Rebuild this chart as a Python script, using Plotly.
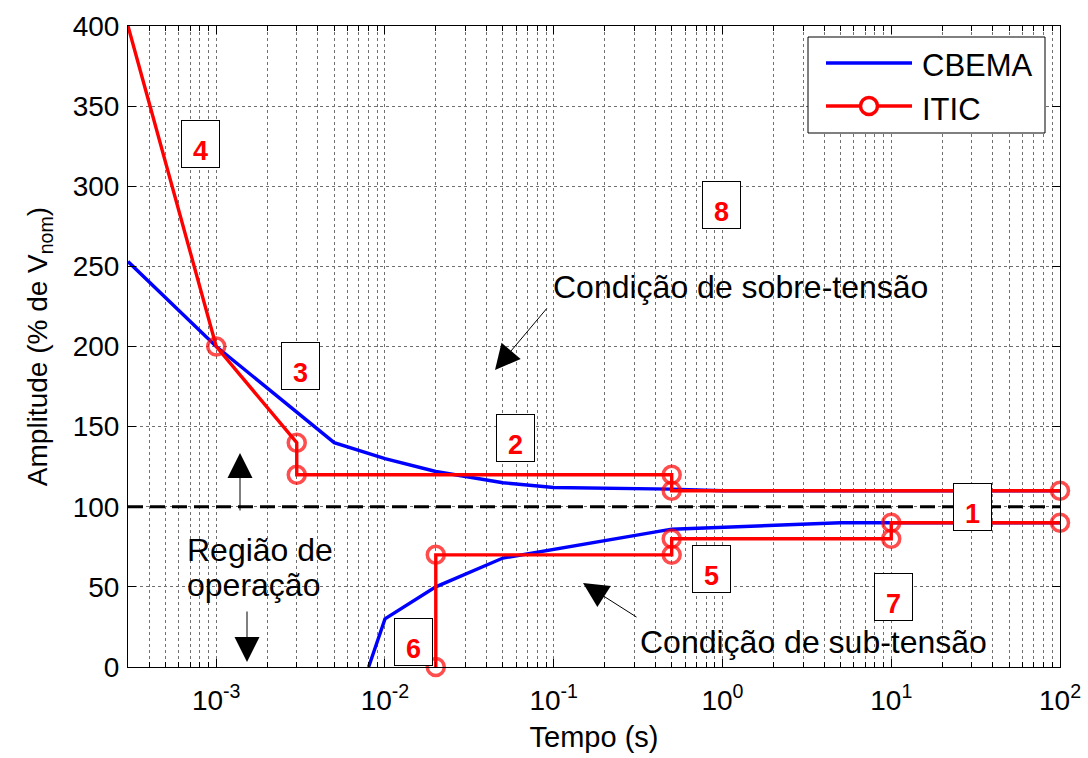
import plotly.graph_objects as go
import math

# ---------------- data ----------------
cbema_up_t = [3e-4, 1e-3, 5e-3, 1e-2, 2e-2, 5e-2, 0.1, 0.5, 1, 100]
cbema_up_v = [253, 200, 140, 130, 122, 115, 112, 111, 110, 110]
cbema_low_t = [8e-3, 1e-2, 2e-2, 5e-2, 0.5, 5, 10, 100]
cbema_low_v = [0, 30, 50, 68, 86, 90, 90, 90]

itic_up_t = [3e-4, 1e-3, 3e-3, 3e-3, 0.5, 0.5, 100]
itic_up_v = [400, 200, 140, 120, 120, 110, 110]
itic_low_t = [0.02, 0.02, 0.5, 0.5, 10, 10, 100]
itic_low_v = [0, 70, 70, 80, 80, 90, 90]

nominal = 100
x_range = [3e-4, 100]
y_ticks = [0, 50, 100, 150, 200, 250, 300, 350, 400]
x_tickvals = [1e-3, 1e-2, 1e-1, 1, 10, 100]
x_ticktext = ["10<sup>-3</sup>", "10<sup>-2</sup>", "10<sup>-1</sup>",
              "10<sup>0</sup>", "10<sup>1</sup>", "10<sup>2</sup>"]

region_labels = ["1", "2", "3", "4", "5", "6", "7", "8"]

# ---------------- layout helpers (pixel -> paper) ----------------
W, H = 1088, 758
L, R, T, B = 128, 28, 26, 91
PW, PH = W - L - R, H - T - B


def px(x):
    return (x - L) / PW


def py(y):
    return (H - B - y) / PH


# centres of the numbered boxes (pixels)
region_pix = [(972, 507), (515, 438), (300, 366), (200, 144),
              (711, 569), (413, 642), (893, 597), (721, 205)]

FONT = "Arial, Liberation Sans, sans-serif"
RED = "#ff0000"
BLUE = "#0000ff"

fig = go.Figure()

fig.add_trace(go.Scatter(
    x=cbema_up_t + [None] + cbema_low_t,
    y=cbema_up_v + [None] + cbema_low_v,
    mode="lines", name="CBEMA", showlegend=False,
    line=dict(color=BLUE, width=3.4),
))

itic_t = itic_up_t + [None] + itic_low_t
itic_v = itic_up_v + [None] + itic_low_v
sizes = [0] + [17] * (len(itic_up_t) - 1) + [0] + [17] * len(itic_low_t)
fig.add_trace(go.Scatter(
    x=itic_t, y=itic_v,
    mode="lines+markers", name="ITIC", showlegend=False,
    line=dict(color=RED, width=3.4),
    marker=dict(symbol="circle-open", size=sizes, color=RED,
                line=dict(width=3.5, color=RED)),
    cliponaxis=False,
))

# nominal dashed line
fig.add_shape(type="line", xref="paper", x0=0, x1=1, yref="y", y0=nominal, y1=nominal,
              line=dict(color="black", width=3, dash="15px,7px"), layer="above")

# white backgrounds for the free texts (between grid and data)
for (x0, y0, x1, y1) in [(548, 265, 935, 308), (638, 617, 990, 666), (167, 515, 353, 598)]:
    fig.add_shape(type="rect", xref="paper", yref="paper",
                  x0=px(x0), x1=px(x1), y0=py(y1), y1=py(y0),
                  fillcolor="white", line=dict(width=0), layer="below")

# numbered region boxes
for lab, (cx, cy) in zip(region_labels, region_pix):
    fig.add_annotation(
        xref="paper", yref="paper", x=px(cx), y=py(cy), xanchor="center", yanchor="middle",
        text="<b>%s</b>" % lab,
        showarrow=False, font=dict(family=FONT, size=27, color=RED),
        bgcolor="white", bordercolor="black", borderwidth=1,
        width=35, height=44, valign="bottom", borderpad=1,
    )

ARR = dict(showarrow=True, arrowhead=2, arrowsize=5, arrowwidth=1.0,
           arrowcolor="black", standoff=0, text="", xref="paper", yref="paper")

fig.add_annotation(xref="paper", yref="paper", x=px(740), y=py(287),
                   xanchor="center", yanchor="middle",
                   text="Condição de sobre-tensão", showarrow=False,
                   font=dict(family=FONT, size=32, color="black"))
fig.add_annotation(x=px(495), y=py(370), ax=53, ay=-63, **ARR)

fig.add_annotation(xref="paper", yref="paper", x=px(813), y=py(642),
                   xanchor="center", yanchor="middle",
                   text="Condição de sub-tensão", showarrow=False,
                   font=dict(family=FONT, size=32, color="black"))
fig.add_annotation(x=px(583), y=py(583), ax=55, ay=35, **ARR)

fig.add_annotation(xref="paper", yref="paper", x=px(185), y=py(550),
                   xanchor="left", yanchor="middle",
                   text="Região de", showarrow=False,
                   font=dict(family=FONT, size=32, color="black"))
fig.add_annotation(xref="paper", yref="paper", x=px(185), y=py(585),
                   xanchor="left", yanchor="middle",
                   text="operação", showarrow=False,
                   font=dict(family=FONT, size=32, color="black"))
# down arrow
fig.add_annotation(x=px(247), y=py(662), ax=0, ay=-52, **ARR)
# up arrow
fig.add_annotation(x=px(240), y=py(453), ax=0, ay=59, **ARR)

# ---------------- manual legend ----------------
fig.add_shape(type="rect", xref="paper", yref="paper",
              x0=px(808), x1=px(1045), y0=py(133), y1=py(37),
              fillcolor="white", line=dict(color="black", width=1), layer="above")
fig.add_shape(type="line", xref="paper", yref="paper",
              x0=px(826), x1=px(912), y0=py(63), y1=py(63),
              line=dict(color=BLUE, width=3.4), layer="above")
fig.add_shape(type="line", xref="paper", yref="paper",
              x0=px(826), x1=px(912), y0=py(106), y1=py(106),
              line=dict(color=RED, width=3.4), layer="above")
fig.add_shape(type="circle", xref="paper", yref="paper",
              x0=px(869 - 8.5), x1=px(869 + 8.5), y0=py(106 + 8.5), y1=py(106 - 8.5),
              fillcolor="white", line=dict(color=RED, width=3.5), layer="above")
fig.add_annotation(xref="paper", yref="paper", x=px(920), y=py(66),
                   xanchor="left", yanchor="middle", text="CBEMA", showarrow=False,
                   font=dict(family=FONT, size=31, color="black"))
fig.add_annotation(xref="paper", yref="paper", x=px(920), y=py(110),
                   xanchor="left", yanchor="middle", text="ITIC", showarrow=False,
                   font=dict(family=FONT, size=31, color="black"))

grid_kw = dict(showgrid=True, gridcolor="#707070", griddash="dot", gridwidth=1)

fig.update_xaxes(
    type="log", range=[math.log10(x_range[0]), math.log10(x_range[1])],
    tickvals=x_tickvals, ticktext=x_ticktext,
    ticks="inside", ticklen=8, tickcolor="black",
    showline=True, linecolor="black", linewidth=1, mirror="ticks",
    tickfont=dict(family=FONT, size=28, color="black"),
    ticklabelstandoff=8, automargin=False,
    title=dict(text="Tempo (s)", font=dict(family=FONT, size=29, color="black"), standoff=12),
    minor=dict(dtick="D1", ticks="inside", ticklen=5, tickcolor="black",
               showgrid=True, gridcolor="#707070", griddash="dot", gridwidth=1),
    zeroline=False,
    **grid_kw,
)
fig.update_yaxes(
    range=[0, 400], tickvals=y_ticks,
    ticks="inside", ticklen=8, tickcolor="black",
    showline=True, linecolor="black", linewidth=1, mirror="ticks",
    tickfont=dict(family=FONT, size=28, color="black"),
    ticklabelstandoff=2, automargin=False,
    title=dict(text="Amplitude (% de V<sub>nom</sub>)",
               font=dict(family=FONT, size=28, color="black"), standoff=16),
    zeroline=False,
    **grid_kw,
)

fig.update_layout(
    width=W, height=H,
    margin=dict(l=L, r=R, t=T, b=B, autoexpand=False),
    paper_bgcolor="white", plot_bgcolor="white",
    showlegend=False,
)

fig.write_html("out.html")
